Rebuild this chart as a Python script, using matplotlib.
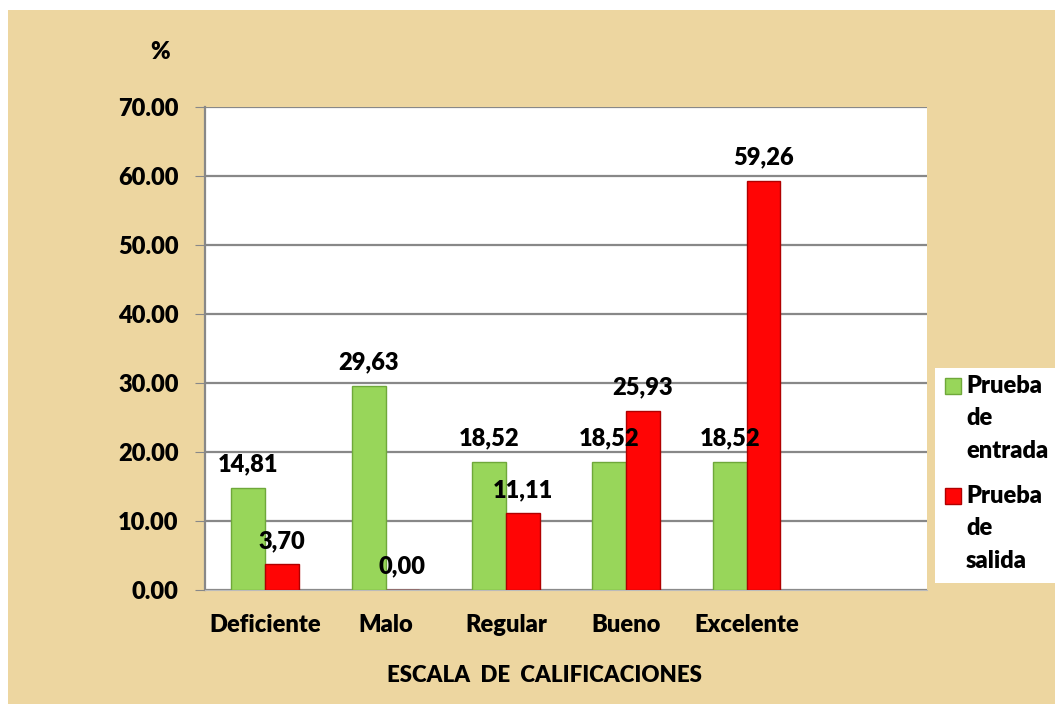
import matplotlib.pyplot as plt
import numpy as np
from matplotlib.patches import Rectangle

plt.rcParams['font.family'] = ['Lato', 'DejaVu Sans']
peso = 'heavy'
plt.rcParams['font.weight'] = peso

categorias = ['Deficiente', 'Malo', 'Regular', 'Bueno', 'Excelente']
entrada = [14.81, 29.63, 18.52, 18.52, 18.52]
salida = [3.70, 0.00, 11.11, 25.93, 59.26]
etiquetas_y = ['0.00', '10.00', '20.00', '30.00', '40.00', '50.00', '60.00', '70.00']
series = [['Prueba', 'de', 'entrada'], ['Prueba', 'de', 'salida']]

fondo = '#EDD6A0'
verde = '#98D65A'
rojo = '#FF0505'
fs = 17

fig = plt.figure(figsize=(10.55, 7.04), dpi=100)
fig.patch.set_facecolor('white')
# papyrus coloured panel (white strip left and top)
fig.patches.append(Rectangle((8 / 1055, 0), 1, 1 - 10 / 704, transform=fig.transFigure,
                             facecolor=fondo, edgecolor='none', zorder=-5))

ax = fig.add_axes([205 / 1055, 1 - 590 / 704, (927 - 205) / 1055, (590 - 107) / 704])
ax.set_facecolor('white')

x = np.arange(len(categorias))
w = 0.28
b1 = ax.bar(x - w / 2, entrada, w, color=verde, edgecolor='#6FA83A', linewidth=1, zorder=3)
b2 = ax.bar(x + w / 2, salida, w, color=rojo, edgecolor='#B00000', linewidth=1, zorder=3)

for barras, vals in ((b1, entrada), (b2, salida)):
    for r, v in zip(barras, vals):
        ax.annotate(f'{v:.2f}'.replace('.', ','), (r.get_x() + r.get_width() / 2, v),
                    xytext=(0, 9), textcoords='offset points', ha='center', va='bottom',
                    fontsize=fs, fontweight=peso, zorder=5)

ax.set_xlim(-0.5, 5.5)
ax.set_ylim(0, 70)
ax.set_yticks(np.arange(0, 71, 10))
ax.set_yticklabels(etiquetas_y)
ax.set_xticks(x)
ax.set_xticklabels(categorias)
ax.tick_params(axis='y', length=7, color='#888888', labelsize=fs, pad=12)
ax.tick_params(axis='x', length=0, labelsize=fs, pad=17)
ax.yaxis.grid(True, color='#888888', linewidth=1.6, zorder=0)
ax.set_axisbelow(True)
for s in ('top', 'right'):
    ax.spines[s].set_visible(False)
ax.spines['left'].set_color('#888888')
ax.spines['left'].set_linewidth(1.6)
ax.spines['bottom'].set_color('#BBBBBB')

fig.text(160 / 1055, 1 - 52 / 704, '%', fontsize=fs, fontweight=peso, ha='center', va='center')
fig.text(544 / 1055, 1 - 676 / 704, 'ESCALA  DE  CALIFICACIONES', fontsize=16,
         fontweight=peso, ha='center', va='center')

# legend box drawn by hand (square next to the first line, one text per line)
fig.patches.append(Rectangle((935 / 1055, 1 - 583 / 704), 1, 215 / 704, transform=fig.transFigure,
                             facecolor='white', edgecolor='none', zorder=1))
for i, (lineas, col, ec) in enumerate(zip(series, (verde, rojo), ('#6FA83A', '#B00000'))):
    base = 393 + i * 110
    fig.patches.append(Rectangle((945 / 1055, 1 - (base + 1) / 704), 16 / 1055, 16 / 704,
                                 transform=fig.transFigure, facecolor=col, edgecolor=ec,
                                 linewidth=1, zorder=2))
    for j, t in enumerate(lineas):
        fig.text(966 / 1055, 1 - (base + j * 32.3) / 704, t, fontsize=fs, fontweight=peso,
                 ha='left', va='baseline', zorder=3)

fig.savefig('out.png', dpi=100, facecolor=fig.get_facecolor())
